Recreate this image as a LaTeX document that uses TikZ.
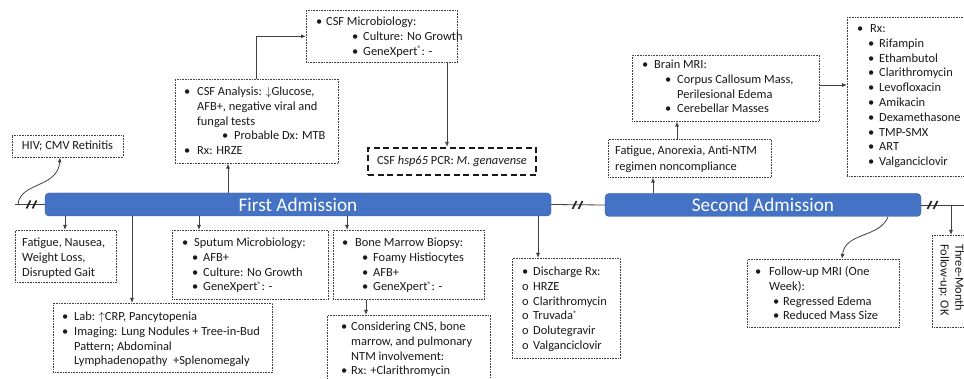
\documentclass[tikz,border=0pt]{standalone}
\usepackage{fontspec}
\setmainfont{Carlito}
\usetikzlibrary{arrows.meta}
\definecolor{barblue}{HTML}{4472C4}
\newcommand{\li}[4]{\strut\hspace*{#1pt}\makebox[\dimexpr#2pt-#1pt\relax][l]{#3}#4}
\newcommand{\reg}{\raisebox{3.2pt}{\fontsize{8}{8}\selectfont ®}}
\newcommand{\bx}[5]{\node[box,anchor=north west,minimum width={(#4-#2)*1pt},minimum height={(#5-#3)*1pt}] (#1) at (#2,#3) {};}
\newcommand{\breakmark}[2]{\draw[brk] (#1-5.5,#2+4) -- (#1-1.5,#2-4); \draw[brk] (#1+0.5,#2+4) -- (#1+4.5,#2-4);}
\tikzset{
  box/.style={draw=black!75, densely dotted, line width=0.6pt, inner sep=0, fill=white},
  txt/.style={anchor=north west, inner sep=0, align=left, font=\fontsize{12.4}{14.8}\selectfont, text=black!90},
  conn/.style={draw=black!75, line width=0.8pt},
  arr/.style={conn, -{Latex[length=5pt,width=4pt]}},
  bar/.style={fill=barblue, draw=barblue!80!black, line width=0.4pt, rounded corners=4pt, text=white, font=\fontsize{19.3}{21}\selectfont, inner sep=0},
  brk/.style={line width=1.7pt, black!85}
}
\begin{document}
\begin{tikzpicture}[x=1pt,y=-1pt]
\useasboundingbox (0,0) rectangle (964,379);
\clip (0,0) rectangle (964,379);
% x helper coordinates
\coordinate (xfat) at (65,0);
\coordinate (xlab) at (132,0);
\coordinate (xspu) at (199,0);
\coordinate (xcsfa) at (228,0);
\coordinate (xbone) at (347,0);
\coordinate (xcons) at (366,0);
\coordinate (xpcr) at (447,0);
\coordinate (xdis) at (538,0);
\coordinate (xfat2) at (653,0);
\coordinate (xbrain) at (677,0);
\coordinate (xhiv) at (60,0);
\coordinate (xfu1) at (888,0);
\coordinate (xfu2) at (842,0);
\coordinate (xthree) at (951,0);
\coordinate (ybr) at (0,85);
% timeline bars
\node[bar, minimum width=506pt, minimum height=23pt] (bar1) at (298,204.5) {First Admission};
\node[bar, minimum width=316pt, minimum height=23pt] (bar2) at (763,205) {Second Admission};
\coordinate (tstart) at (15,204.5);
\coordinate (tend) at (970,205);
\draw[conn] (tstart) -- (bar1.west);
\draw[conn] (bar1.east) -- (bar2.west);
\draw[conn] (bar2.east) -- (tend);
\breakmark{32}{204.5}
\breakmark{578}{205}
\breakmark{933}{205}
% boxes
\node[box, minimum width=111pt, minimum height=22pt, font=\fontsize{12.4}{14.8}\selectfont, text=black!90] (hiv) at (67.5,146) {HIV; CMV Retinitis};
\bx{csfa}{175}{79}{338}{163}
\bx{csfm}{306}{10}{457}{62}
\node[draw=black!90, line width=2.2pt, dash pattern=on 6pt off 3.5pt, minimum width=168pt, minimum height=27pt, inner sep=0, fill=white, font=\fontsize{12.4}{14.8}\selectfont, text=black!90] (pcr) at (452,161.5) {CSF \textit{hsp65} PCR: \textit{M. genavense}};
\bx{fat}{15}{230}{116}{282}
\bx{lab}{53}{303}{272}{372}
\bx{spu}{172}{230}{328}{299}
\bx{bone}{333}{230}{484}{299}
\bx{cons}{327}{315}{490}{395}
\bx{dis}{512}{258}{620}{358}
\bx{fat2}{608}{139}{771}{177}
\bx{brain}{632}{55}{819}{121}
\bx{rx}{847}{17}{970}{176}
\bx{fu}{747}{259}{899}{327}
\bx{three}{932}{235}{975}{327}
% texts
\node[txt] (csfaT) at (184,85) {\li{0}{13}{•}{CSF Analysis: $\downarrow$Glucose,}\\
\li{13}{13}{}{AFB+, negative viral and}\\
\li{13}{13}{}{fungal tests}\\
\li{38}{50}{•}{Probable\ Dx: MTB}\\
\li{0}{13}{•}{Rx: HRZE}};
\node[txt] (csfmT) at (316,15) {\li{0}{10}{•}{CSF Microbiology:}\\
\li{36}{47}{•}{Culture: No Growth}\\
\li{36}{47}{•}{GeneXpert\reg: -}};
\node[txt] (fatT) at (22,236) {\strut Fatigue, Nausea,\\ \strut Weight Loss,\\ \strut Disrupted Gait};
\node[txt] (labT) at (62,310) {\li{0}{12}{•}{Lab: $\uparrow$CRP, Pancytopenia}\\
\li{0}{12}{•}{Imaging: Lung Nodules + Tree-in-Bud}\\
\li{12}{12}{}{Pattern; Abdominal}\\
\li{12}{12}{}{Lymphadenopathy \ +Splenomegaly}};
\node[txt] (spuT) at (182,236) {\li{0}{12}{•}{Sputum\ Microbiology:}\\
\li{10}{21}{•}{AFB+}\\
\li{10}{21}{•}{Culture: No Growth}\\
\li{10}{21}{•}{GeneXpert\reg: -}};
\node[txt] (boneT) at (342,236) {\li{0}{13}{•}{Bone Marrow\ Biopsy:}\\
\li{20}{31}{•}{Foamy Histiocytes}\\
\li{20}{31}{•}{AFB+}\\
\li{20}{31}{•}{GeneXpert\reg: -}};
\node[txt] (consT) at (341,320) {\li{0}{10}{•}{Considering CNS, bone}\\
\li{10}{10}{}{marrow, and pulmonary}\\
\li{10}{10}{}{NTM involvement:}\\
\li{0}{10}{•}{Rx: +Clarithromycin}};
\node[txt] (disT) at (522,265) {\li{0}{11}{•}{Discharge Rx:}\\
\li{0}{11}{o}{HRZE}\\
\li{0}{11}{o}{Clarithromycin}\\
\li{0}{11}{o}{Truvada\reg}\\
\li{0}{11}{o}{Dolutegravir}\\
\li{0}{11}{o}{Valganciclovir}};
\node[txt, font=\fontsize{12.4}{16}\selectfont] (fat2T) at (615,143) {\strut Fatigue, Anorexia, Anti-NTM\\ \strut regimen noncompliance};
\node[txt] (brainT) at (642,58) {\li{0}{12}{•}{Brain MRI:}\\
\li{23}{35}{•}{Corpus Callosum Mass,}\\
\li{35}{35}{}{Perilesional Edema}\\
\li{23}{35}{•}{Cerebellar Masses}};
\node[txt] (rxT) at (857,22) {\li{0}{13}{•}{Rx:}\\
\li{11}{22}{•}{Rifampin}\\
\li{11}{22}{•}{Ethambutol}\\
\li{11}{22}{•}{Clarithromycin}\\
\li{11}{22}{•}{Levofloxacin}\\
\li{11}{22}{•}{Amikacin}\\
\li{11}{22}{•}{Dexamethasone}\\
\li{11}{22}{•}{TMP-SMX}\\
\li{11}{22}{•}{ART}\\
\li{11}{22}{•}{Valganciclovir}};
\node[txt] (fuT) at (755,265) {\li{0}{14}{•}{Follow-up\ MRI (One}\\
\li{14}{14}{}{Week):}\\
\li{18}{28}{•}{Regressed Edema}\\
\li{18}{28}{•}{Reduced Mass Size}};
\node[txt, rotate=-90] (threeT) at (966,244) {\strut Three-Month\\ \strut Follow-up: OK};
% connectors
\draw[arr] (tstart) ++(3,0) .. controls (20,182) and (58,188) .. (hiv.south -| xhiv);
\draw[arr] (bar1.north -| xcsfa) -- (csfa.south -| xcsfa);
\draw[arr] (csfa.north) |- (csfm.west);
\draw[arr] (csfm.south -| xpcr) -- (pcr.north -| xpcr);
\draw[arr] (bar1.south -| xfat) -- (fat.north -| xfat);
\draw[arr] (bar1.south -| xlab) -- (lab.north -| xlab);
\draw[arr] (bar1.south -| xspu) -- (spu.north -| xspu);
\draw[arr] (bar1.south -| xbone) -- (bone.north -| xbone);
\draw[arr] (bone.south -| xcons) -- (cons.north -| xcons);
\draw[arr] (bar1.south -| xdis) -- (dis.north -| xdis);
\draw[arr] (bar2.north -| xfat2) -- (fat2.south -| xfat2);
\draw[arr] (fat2.north -| xbrain) -- (brain.south -| xbrain);
\draw[arr] (brain.east |- ybr) -- (rx.west |- ybr);
\draw[arr] (bar2.south -| xfu1) .. controls (880,238) and (845,232) .. (fu.north -| xfu2);
\draw[arr] (bar2.east -| xthree) -- (three.north -| xthree);
\end{tikzpicture}
\end{document}
